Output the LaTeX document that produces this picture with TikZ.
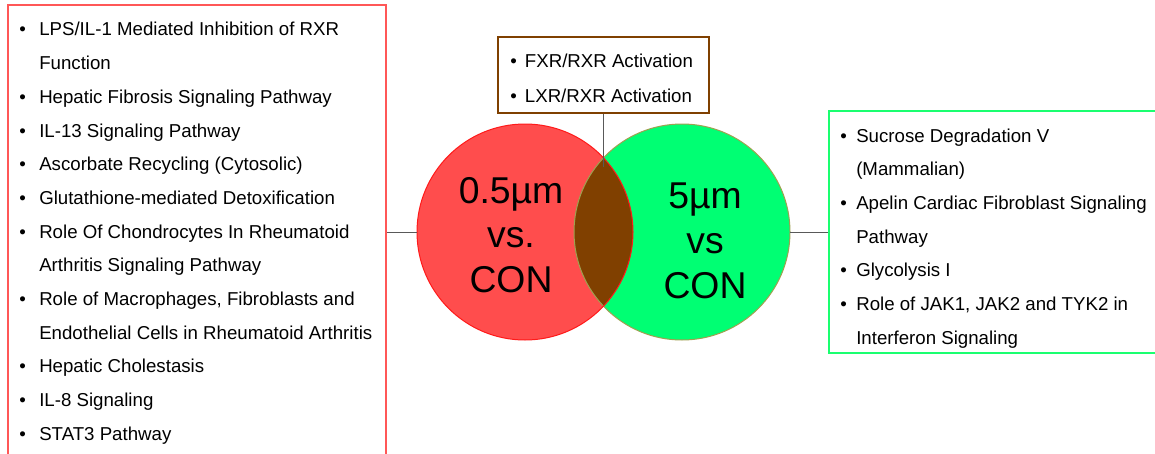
\documentclass[tikz,border=0pt]{standalone}
\usepackage{fontspec}
\setmainfont{Liberation Sans}

\definecolor{redfill}{HTML}{FF4D4D}
\definecolor{redline}{HTML}{FF1A1A}
\definecolor{greenfill}{HTML}{00FF73}
\definecolor{greenline}{HTML}{A0A050}
\definecolor{lens}{HTML}{804000}
\definecolor{boxred}{HTML}{FF5757}
\definecolor{boxgreen}{HTML}{1AFF70}
\definecolor{boxbrown}{HTML}{7F4000}
\definecolor{linkgray}{HTML}{595959}

\newcommand{\bul}[2][15pt]{\makebox[#1][l]{\textbullet}#2}
\newcommand{\cont}[2][15pt]{\hspace*{#1}#2}

\tikzset{
  box/.style={draw, line width=1.5pt, inner sep=0pt},
  itm/.style={anchor=base west, inner sep=0pt, font=\fontsize{14}{16}\selectfont},
  big/.style={align=center, inner sep=0pt, font=\fontsize{28}{33.6}\selectfont},
  link/.style={draw=linkgray, line width=0.75pt}
}

\begin{document}
\begin{tikzpicture}[x=0.75pt,y=-0.75pt]
\useasboundingbox (0,0) rectangle (1155,453);

% boxes
\node[box, draw=boxred, minimum width=283.5pt, minimum height=340.5pt] (L) at (197,232) {};
\node[box, draw=boxbrown, minimum width=158.25pt, minimum height=57pt] (M) at (603.5,75) {};
\node[box, draw=boxgreen, minimum width=249.75pt, minimum height=181.5pt] (R) at (995.5,232) {};

% circles
\node[circle, fill=redfill, minimum size=162pt, inner sep=0pt] (A) at (525,232) {};
\node[circle, fill=greenfill, minimum size=162pt, inner sep=0pt] (B) at (682,232) {};
\begin{scope}
\clip (A.center) circle (81pt);
\fill[lens] (B.center) circle (81pt);
\end{scope}
\draw[greenline, line width=0.75pt] (B.center) circle (81pt);
\draw[redline, line width=0.75pt] (A.center) circle (81pt);

\node[big] (Atxt) at (511,235) {0.5µm\\vs.\\CON};
\node[big] (Btxt) at (705,241) {5µm\\vs\\CON};

% connectors
\coordinate (I) at (603.5,167);
\draw[link] (L.east) -- (A.west);
\draw[link] (B.east) -- (R.west);
\draw[link] (M.south) -- (I);

% lists
\foreach \t [count=\i from 0] in {\bul{LPS/IL-1 Mediated Inhibition of RXR},
  \cont{Function},
  \bul{Hepatic Fibrosis Signaling Pathway},
  \bul{IL-13 Signaling Pathway},
  \bul{Ascorbate Recycling (Cytosolic)},
  \bul{Glutathione-mediated Detoxification},
  \bul{Role Of Chondrocytes In Rheumatoid},
  \cont{Arthritis Signaling Pathway},
  {\bul{Role of Macrophages, Fibroblasts and}},
  \cont{Endothelial Cells in Rheumatoid Arthritis},
  \bul{Hepatic Cholestasis},
  \bul{IL-8 Signaling},
  \bul{STAT3 Pathway}}
  \node[itm] (Ltxt\i) at (19,36+33.67*\i) {\t};

\node[itm] (Mtxt0) at (510,68) {\bul[11pt]{FXR/RXR Activation}};
\node[itm] (Mtxt1) at (510,102) {\bul[11pt]{LXR/RXR Activation}};

\foreach \t [count=\i from 0] in {\bul[12pt]{Sucrose Degradation V},
  \cont[12pt]{(Mammalian)},
  \bul[12pt]{Apelin Cardiac Fibroblast Signaling},
  \cont[12pt]{Pathway},
  \bul[12pt]{Glycolysis I},
  {\bul[12pt]{Role of JAK1, JAK2 and TYK2 in}},
  \cont[12pt]{Interferon Signaling}}
  \node[itm] (Rtxt\i) at (840,142+33.67*\i) {\t};
\end{tikzpicture}
\end{document}
